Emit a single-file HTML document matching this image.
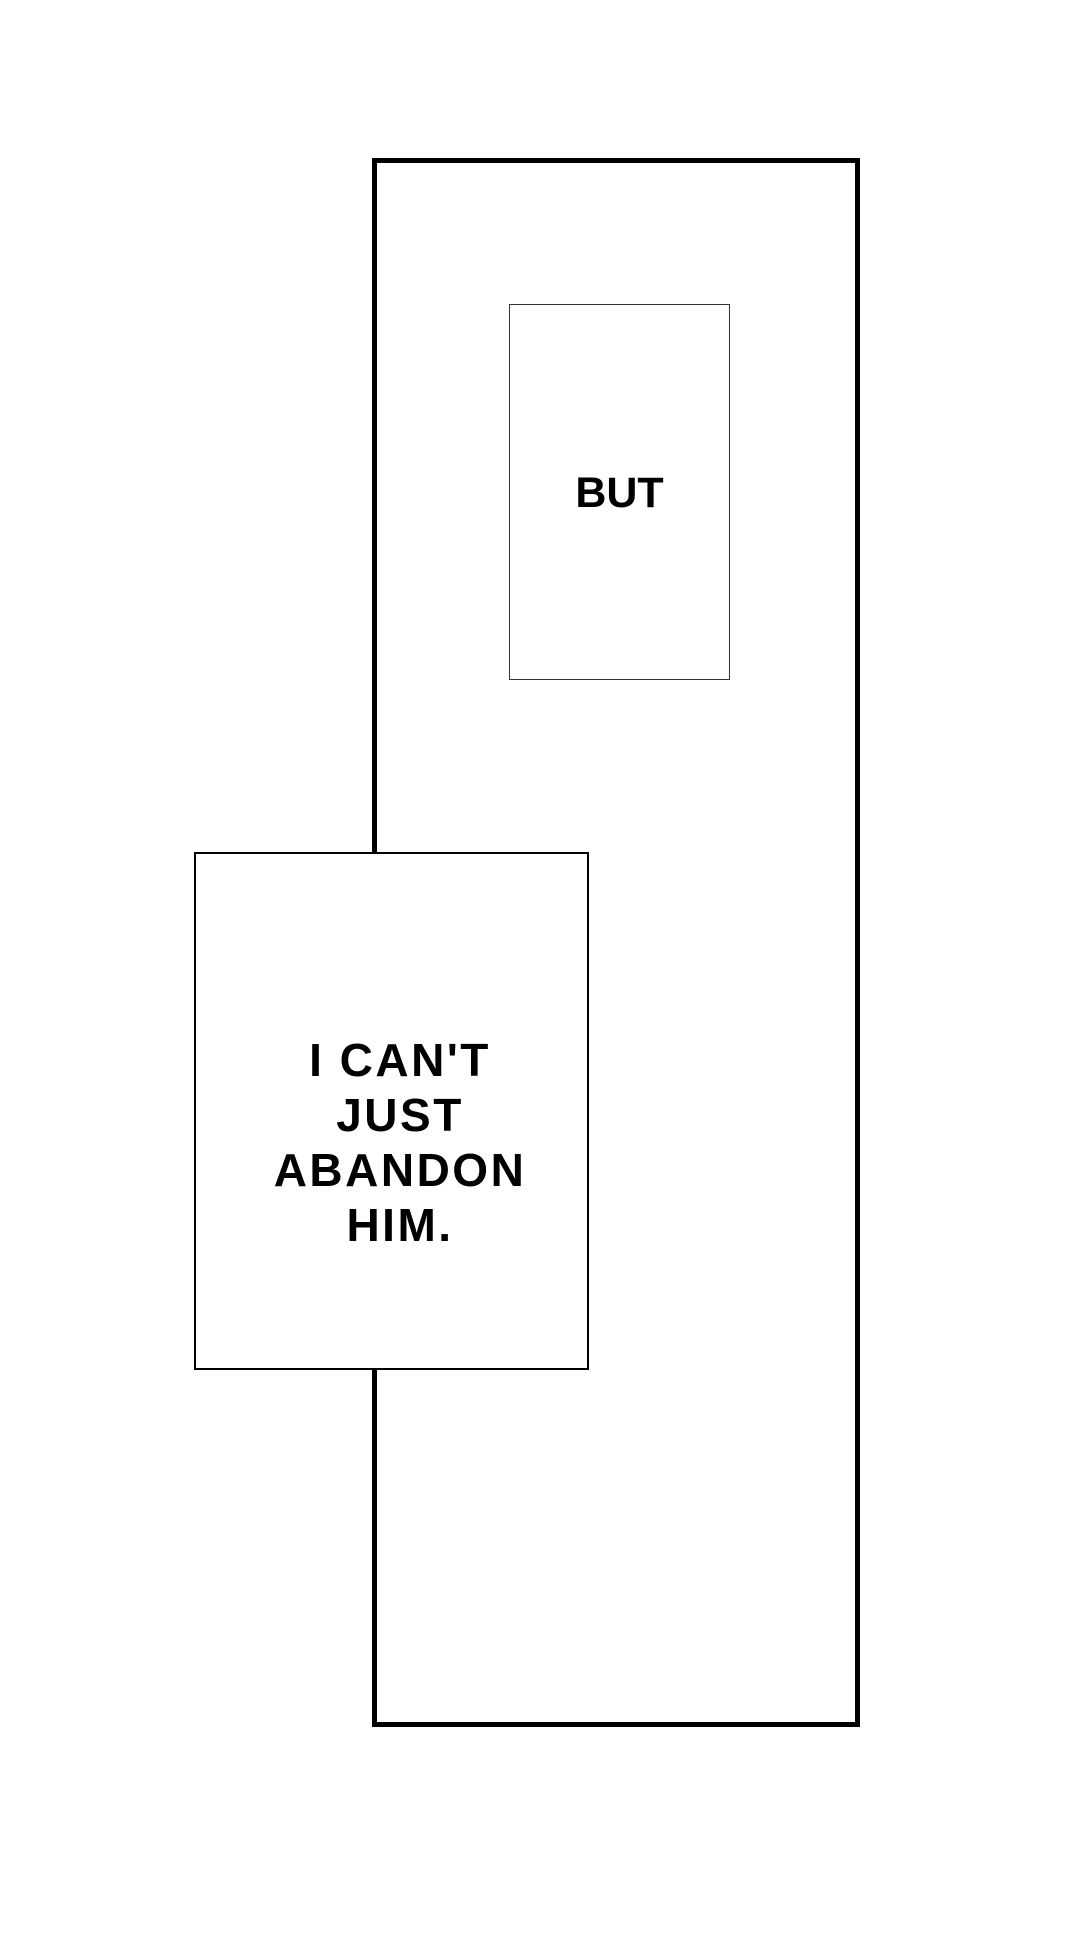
<!DOCTYPE html>
<html><head><style>
html,body{margin:0;padding:0;background:#fff;}
body{width:1080px;height:1938px;position:relative;overflow:hidden;font-family:"Liberation Sans",sans-serif;font-weight:bold;color:#000;}
.b{position:absolute;box-sizing:border-box;background:#fff;}
.t{position:absolute;text-align:center;}
</style></head><body>
<div class="b" style="left:372px;top:158px;width:488px;height:1569px;border:5px solid #000;"></div>
<div class="b" style="left:509px;top:304px;width:221px;height:376px;border:1.5px solid #333;"></div>
<div class="t" style="left:509px;width:221px;top:468px;font-size:43px;line-height:50px;">BUT</div>
<div class="b" style="left:194px;top:852px;width:395px;height:518px;border:2.5px solid #000;"></div>
<div class="t" style="left:200px;width:400px;top:1033px;font-size:46px;line-height:55px;letter-spacing:2.5px;">I CAN'T<br>JUST<br>ABANDON<br>HIM.</div>
</body></html>
